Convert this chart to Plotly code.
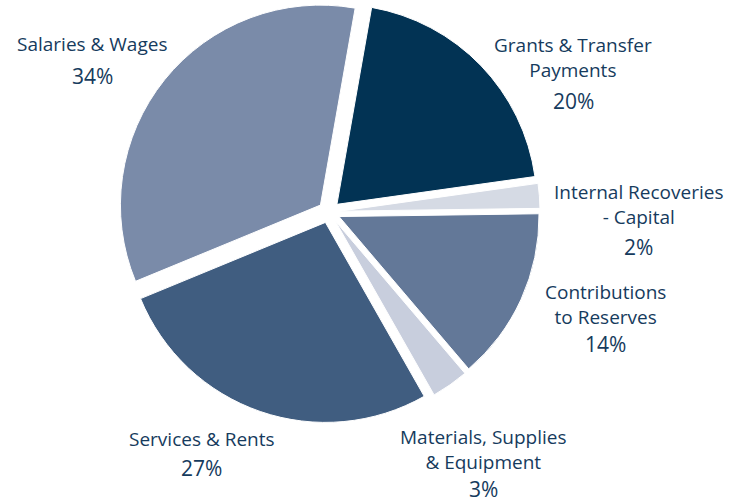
import plotly.graph_objects as go

categories = ["Grants & Transfer<br>Payments", "Internal Recoveries<br>- Capital",
              "Contributions<br>to Reserves", "Materials, Supplies<br>& Equipment",
              "Services & Rents", "Salaries & Wages"]
values = [20, 2, 14, 3, 27, 34]
colors = ["#023354", "#D5DAE4", "#637898", "#C8CEDD", "#405D80", "#7A8BA9"]

W, H = 730, 504
TXT = "#163B5D"
FONT = "Open Sans"

fig = go.Figure(go.Pie(
    labels=categories, values=values, sort=False, direction="clockwise",
    rotation=10, pull=[0.055] * len(values),
    marker=dict(colors=colors, line=dict(color="white", width=1)),
    textinfo="none", hoverinfo="label+percent", showlegend=False,
    domain=dict(x=[118 / W, 540 / W], y=[1 - 423 / H, 1 - 1 / H]),
))

# label positions (pixels): name centre x, name centre y, percent centre y
label_pos = [(573, 57, 101), (638, 204, 247), (605, 304, 344),
             (483, 449, 489), (202, 439, 468), (92, 44, 76)]

ann = []
for cat, v, (x, yn, yp) in zip(categories, values, label_pos):
    ann.append(dict(x=x / W, y=1 - yn / H, xref="paper", yref="paper",
                    text=cat, showarrow=False, xanchor="center", yanchor="middle",
                    font=dict(family=FONT, size=19, color=TXT)))
    ann.append(dict(x=x / W, y=1 - yp / H, xref="paper", yref="paper",
                    text=f"{v}%", showarrow=False, xanchor="center", yanchor="middle",
                    font=dict(family=FONT, size=21, color=TXT)))

fig.update_layout(width=W, height=H, margin=dict(l=0, r=0, t=0, b=0),
                  paper_bgcolor="white", plot_bgcolor="white", annotations=ann)
fig.write_html("out.html", config={"displayModeBar": False},
               post_script="document.body.style.margin='0';")
